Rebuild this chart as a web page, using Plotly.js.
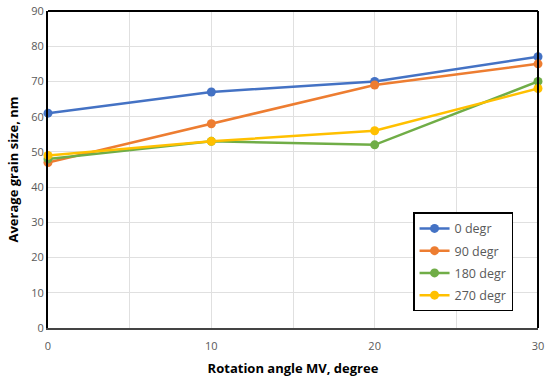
<!DOCTYPE html>
<html><head><meta charset="utf-8">
<script src="https://cdn.plot.ly/plotly-3.0.1.min.js"></script>
<style>html,body{margin:0;padding:0;background:#fff}#chart{width:550px;height:377px}</style>
</head><body><div id="chart"></div>
<script>
const angles = [0, 10, 20, 30];
const seriesNames = ["0 degr", "90 degr", "180 degr", "270 degr"];
const s0 = [61, 67, 70, 77];
const s90 = [47, 58, 69, 75];
const s180 = [48, 53, 52, 70];
const s270 = [49, 53, 56, 68];
const colors = ["#4472C4", "#ED7D31", "#70AD47", "#FFC000"];
const values = [s0, s90, s180, s270];

const traces = values.map((v, i) => ({
  x: angles, y: v, name: seriesNames[i], legendgroup: "g" + i, type: "scatter", mode: "lines+markers",
  line: {color: colors[i], width: 2.5}, marker: {color: colors[i], size: 9}, cliponaxis: false
}));

const layout = {
  width: 550, height: 377,
  margin: {l: 48, r: 12, t: 11, b: 49},
  paper_bgcolor: "#fff", plot_bgcolor: "#fff",
  font: {family: "Open Sans, Liberation Sans, sans-serif", color: "#595959", size: 11},
  xaxis: {range: [0, 30], dtick: 10, tick0: 0, showgrid: true, gridcolor: "#e0e0e0",
    minor: {dtick: 5, showgrid: true, gridcolor: "#e0e0e0"},
    showline: true, linecolor: "#444", linewidth: 2, mirror: false, zeroline: false, ticks: "",
    ticklabelstandoff: 7,
    tickfont: {size: 11, color: "#595959"},
    title: {text: "<b>Rotation angle MV, degree</b>", font: {size: 13, color: "#000"}, standoff: 12}},
  yaxis: {range: [0, 90], dtick: 10, showgrid: true, gridcolor: "#e0e0e0", zeroline: false,
    showline: true, linecolor: "#000", linewidth: 2, ticks: "",
    tickfont: {size: 11, color: "#595959"},
    title: {text: "<b>Average grain size, nm</b>", font: {size: 13, color: "#000"}, standoff: 10}},
  shapes: [
    {type: "line", xref: "paper", yref: "paper", x0: 0, x1: 1, y0: 1, y1: 1, line: {color: "#000", width: 2}},
    {type: "line", xref: "paper", yref: "paper", x0: 1, x1: 1, y0: 0, y1: 1, line: {color: "#000", width: 2}}
  ],
  legend: {x: 0.745, y: 0.365, xanchor: "left", yanchor: "top", bgcolor: "#fff",
    bordercolor: "#000", borderwidth: 1.5, font: {size: 12.5, color: "#595959"},
    itemwidth: 30, tracegroupgap: 3},
  showlegend: true
};
Plotly.newPlot("chart", traces, layout, {displayModeBar: false, staticPlot: true});
</script></body></html>
